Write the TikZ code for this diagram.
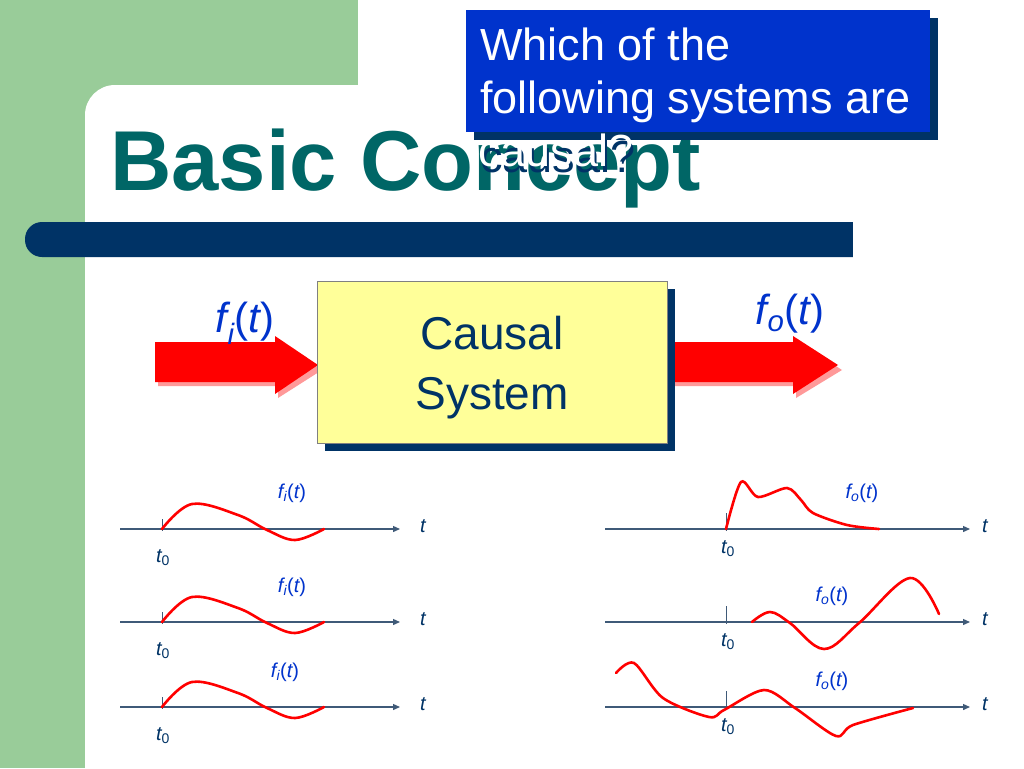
\documentclass[tikz,border=0pt]{standalone}
\usepackage{fontspec}
\setmainfont{Liberation Sans}
\usetikzlibrary{arrows.meta}
\definecolor{bggreen}{HTML}{99CC99}
\definecolor{teal}{HTML}{006666}
\definecolor{navy}{HTML}{003366}
\definecolor{qblue}{HTML}{0033CC}
\definecolor{lyel}{HTML}{FFFF99}
\definecolor{axc}{HTML}{3F5A78}
\definecolor{lblue}{HTML}{0033CC}
\tikzset{
  axis/.style={draw=axc,line width=1.3pt,-{Triangle[length=7pt,width=6pt]}},
  tick/.style={draw=axc,line width=1pt},
  sig/.style={draw=red,line width=2.6pt,line cap=round},
  lab/.style={font=\fontsize{20}{22}\selectfont\itshape,text=lblue,inner sep=0pt},
  tl/.style={font=\fontsize{20}{22}\selectfont\itshape,text=navy,inner sep=0pt},
}
\begin{document}
\begin{tikzpicture}[x=1pt,y=-1pt]
\useasboundingbox (0,0) rectangle (1024,768);
\fill[bggreen] (0,0) rectangle (358,768);
\fill[white,rounded corners=30pt] (85,85) rectangle (1100,900);
% title
\node[anchor=base west,inner sep=0pt,text=teal,font=\fontsize{85}{90}\selectfont\bfseries] (title) at (110,190) {Basic Concept};
% bar
\fill[navy,rounded corners=17pt] (25,222) rectangle (880,257);
\fill[white] (853,215) rectangle (900,265);
% question box
\fill[navy] (474,18) rectangle (938,140);
\fill[qblue] (466,10) rectangle (930,132);
\node[anchor=base west,inner sep=0pt,text=white,font=\fontsize{45}{53}\selectfont] (q) at (480,60) {Which of the};
\node[anchor=base west,inner sep=0pt,text=white,font=\fontsize{45}{53}\selectfont] (q2) at (480,113) {following systems are};
\node[anchor=base west,inner sep=0pt,text=navy,font=\fontsize{45}{53}\selectfont] (q3b) at (480,172) {causal?};
\node[anchor=base west,inner sep=0pt,text=white,font=\fontsize{45}{53}\selectfont] (q3) at (478,166) {causal?};
% arrows
\fill[red!40] (158,346) -- (278,346) -- (278,340) -- (322,370) -- (278,398) -- (278,386) -- (158,386) -- cycle;
\fill[red] (155,342) -- (275,342) -- (275,336) -- (318,365) -- (275,394) -- (275,382) -- (155,382) -- cycle;
\fill[red!40] (671,346) -- (796,346) -- (796,340) -- (842,370) -- (796,398) -- (796,386) -- (671,386) -- cycle;
\fill[red] (668,342) -- (793,342) -- (793,336) -- (838,365) -- (793,394) -- (793,382) -- (668,382) -- cycle;
% system box
\fill[navy] (325,289) rectangle (675,451);
\node[draw=gray,fill=lyel,minimum width=350pt,minimum height=162pt,anchor=north west,inner sep=0pt] (sys) at (317,281) {};
\node[text=navy,font=\fontsize{46}{60}\selectfont,align=center] (st) at (492,368) {Causal\\System};
\node[anchor=base,font=\fontsize{42}{44}\selectfont\itshape,text=lblue,inner sep=0pt] (fi) at (245,332) {f\textsubscript{\itshape i}\/{\upshape(}t{\upshape)}};
\node[anchor=base,font=\fontsize{42}{44}\selectfont\itshape,text=lblue,inner sep=0pt] (fo) at (790,324) {f\textsubscript{\itshape o}\/{\upshape(}t{\upshape)}};
% left plots
\foreach \y/\ly/\lx [count=\k] in {529/493/292,622/587/292,707/672/285}{
  \coordinate (la\k) at (120,\y); \coordinate (lb\k) at (400,\y);
  \draw[axis] (la\k) -- (lb\k);
  \coordinate (lt\k) at (162,\y-10); \coordinate (ltb\k) at (162,\y+2);
  \draw[tick] (lt\k) -- (ltb\k);
  \node[tl] (ltl\k) at (423,\y-3) {t};
  \node[tl] (lt0\k) at (163,\y+29) {t\textsubscript{\upshape 0}};
  \node[lab] (lfl\k) at (\lx,\ly) {f\textsubscript{\itshape i}\/{\upshape(}t{\upshape)}};
  \draw[sig] plot[smooth,tension=0.6] coordinates {(162,\y) (192,\y-25) (238,\y-14) (267,\y+1) (295,\y+11) (324,\y)};
}
% right plots
\foreach \y/\ly/\lx [count=\k] in {529/493/862,622/596/832,707/681/832}{
  \coordinate (ra\k) at (605,\y); \coordinate (rb\k) at (970,\y);
  \draw[axis] (ra\k) -- (rb\k);
  \coordinate (rt\k) at (726,\y-16); \coordinate (rtb\k) at (726,\y+2);
  \draw[tick] (rt\k) -- (rtb\k);
  \node[tl] (rtl\k) at (985,\y-3) {t};
  \node[tl] (rt0\k) at (728,\y+20) {t\textsubscript{\upshape 0}};
  \node[lab] (rfl\k) at (\lx,\ly) {f\textsubscript{\itshape o}\/{\upshape(}t{\upshape)}};
}
\draw[sig] plot[smooth,tension=0.5] coordinates {(726,529) (741,482) (758,497) (787,488) (801,500) (813,513) (847,525) (879,529)};
\draw[sig] plot[smooth,tension=0.6] coordinates {(752,622) (770,612) (790,623) (824,649) (859,623) (910,578) (939,614)};
\draw[sig] plot[smooth,tension=0.5] coordinates {(616,673) (634,663) (663,698) (709,717) (724,710) (764,690) (795,708) (836,736) (853,725) (913,708)};
\end{tikzpicture}
\end{document}
